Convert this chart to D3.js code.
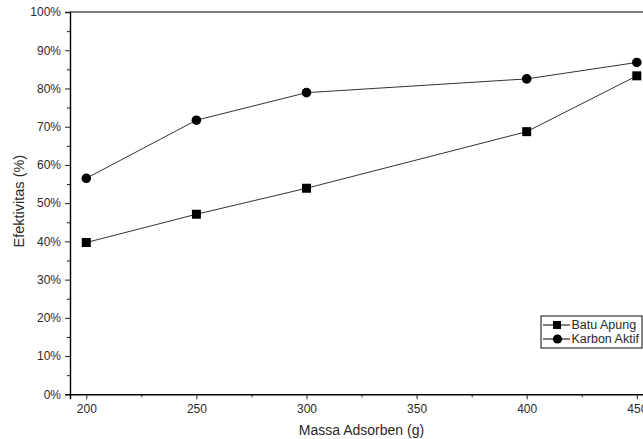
<!DOCTYPE html>
<html><head><meta charset="utf-8">
<script src="https://cdn.jsdelivr.net/npm/d3@7/dist/d3.min.js"></script>
<style>html,body{margin:0;padding:0;background:#fff;overflow:hidden}svg{display:block}</style>
</head><body>
<script>
const massa = [200, 250, 300, 400, 450];
const batuApung = [39.7, 47.1, 53.9, 68.7, 83.3];
const karbonAktif = [56.5, 71.7, 78.9, 82.5, 86.8];
const xTicks = [200, 250, 300, 350, 400, 450];
const yTicks = [0, 10, 20, 30, 40, 50, 60, 70, 80, 90, 100];
const seriesNames = ["Batu Apung", "Karbon Aktif"];

const W = 643, H = 439;
const svg = d3.select("body").append("svg").attr("width", W).attr("height", H);
const pLeft = 70, pTop = 12, pBottom = 394.3;
const x = d3.scaleLinear().domain([192.6, 457.4]).range([pLeft, pLeft + 264.8 * 2.202]);
const y = d3.scaleLinear().domain([0, 100]).range([pBottom, pTop]);
const font = "'Liberation Sans', Arial, sans-serif";
const txt = "#2a2a2a";

// top border
svg.append("line").attr("x1", pLeft).attr("x2", x.range()[1]).attr("y1", pTop).attr("y2", pTop)
  .attr("stroke", "#555").attr("stroke-width", 1.3);

// x axis
const xMin = svg.append("g").attr("transform", `translate(0,${pBottom})`)
  .call(d3.axisBottom(x).tickValues(d3.range(225, 460, 50)).tickSize(3).tickFormat(""));
xMin.select(".domain").remove();
const xMaj = svg.append("g").attr("transform", `translate(0,${pBottom})`)
  .call(d3.axisBottom(x).tickValues(xTicks).tickSize(5).tickPadding(5).tickFormat(d3.format("d")));
xMaj.select(".domain").attr("stroke", "#000").attr("stroke-width", 1.4);
xMaj.selectAll("text").attr("font-family", font).attr("font-size", 12).attr("fill", txt);

// y axis
const yMin = svg.append("g").attr("transform", `translate(${pLeft},0)`)
  .call(d3.axisLeft(y).tickValues(d3.range(5, 100, 10)).tickSize(3).tickFormat(""));
yMin.select(".domain").remove();
const yMaj = svg.append("g").attr("transform", `translate(${pLeft},0)`)
  .call(d3.axisLeft(y).tickValues(yTicks).tickSize(5).tickPadding(4).tickFormat(d => d + "%"));
yMaj.select(".domain").attr("stroke", "#000").attr("stroke-width", 1.4);
yMaj.selectAll("text").attr("font-family", font).attr("font-size", 12).attr("fill", txt);
svg.selectAll(".tick line").attr("stroke", "#222");

// axis titles
svg.append("text").attr("x", 361.5).attr("y", 435).attr("text-anchor", "middle")
  .attr("font-family", font).attr("font-size", 14).attr("fill", txt).text("Massa Adsorben (g)");
svg.append("text").attr("transform", `translate(23.5,${(pTop + pBottom) / 2 - 2}) rotate(-90)`)
  .attr("text-anchor", "middle").attr("font-family", font).attr("font-size", 14.5).attr("fill", txt)
  .text("Efektivitas (%)");

// lines
const line = d3.line().x((d, i) => x(massa[i])).y(d => y(d));
[batuApung, karbonAktif].forEach(s => {
  svg.append("path").attr("d", line(s)).attr("fill", "none").attr("stroke", "#333").attr("stroke-width", 1);
});
// markers
svg.append("g").selectAll("rect").data(batuApung).join("rect")
  .attr("x", (d, i) => x(massa[i]) - 4.5).attr("y", d => y(d) - 4.5)
  .attr("width", 9).attr("height", 9).attr("fill", "#000");
svg.append("g").selectAll("circle").data(karbonAktif).join("circle")
  .attr("cx", (d, i) => x(massa[i])).attr("cy", d => y(d)).attr("r", 4.8).attr("fill", "#000");

// legend
const lg = svg.append("g");
lg.append("rect").attr("x", 541).attr("y", 316).attr("width", 101).attr("height", 32)
  .attr("fill", "#fff").attr("stroke", "#333").attr("stroke-width", 1.2);
seriesNames.forEach((n, i) => {
  const yy = 325 + i * 14;
  lg.append("line").attr("x1", 543).attr("x2", 570).attr("y1", yy).attr("y2", yy).attr("stroke", "#000").attr("stroke-width", 1);
  if (i === 0) lg.append("rect").attr("x", 553).attr("y", yy - 4).attr("width", 8).attr("height", 8).attr("fill", "#000");
  else lg.append("circle").attr("cx", 557.5).attr("cy", yy).attr("r", 4.6).attr("fill", "#000");
  lg.append("text").attr("x", 571.5).attr("y", yy + 4.3).attr("font-family", font).attr("font-size", 12.5)
    .attr("fill", txt).text(n);
});
</script>
</body></html>
